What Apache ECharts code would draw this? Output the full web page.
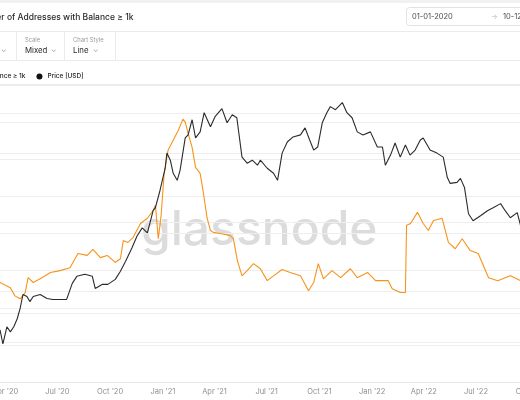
<!DOCTYPE html>
<html>
<head>
<meta charset="utf-8">
<script src="https://cdn.jsdelivr.net/npm/echarts@6/dist/echarts.min.js"></script>
<style>
html,body{margin:0;padding:0;background:#fff;}
#chart{width:520px;height:400px;}
</style>
</head>
<body>
<div id="chart"></div>
<script>
// ---- data ----
const tickDates = ['2020-01-01','2020-04-01','2020-07-01','2020-10-01','2021-01-01','2021-04-01','2021-07-01','2021-10-01','2022-01-01','2022-04-01','2022-07-01','2022-10-01'];
const monthNames = ['Jan','Feb','Mar','Apr','May','Jun','Jul','Aug','Sep','Oct','Nov','Dec'];

const addrDates = ['2020-03-06','2020-03-23','2020-04-10','2020-04-18','2020-04-27','2020-05-06','2020-05-11','2020-05-20','2020-06-01','2020-06-19','2020-07-06','2020-07-23','2020-08-06','2020-08-22','2020-09-01','2020-09-14','2020-09-26','2020-10-10','2020-10-19','2020-10-24','2020-11-01','2020-11-10','2020-11-23','2020-12-05','2020-12-15','2020-12-19','2020-12-24','2020-12-29','2021-01-03','2021-01-10','2021-01-19','2021-01-28','2021-02-05','2021-02-09','2021-02-14','2021-02-21','2021-02-27','2021-03-07','2021-03-12','2021-03-19','2021-03-25','2021-03-30','2021-04-11','2021-04-28','2021-05-04','2021-05-11','2021-05-19','2021-05-28','2021-06-08','2021-06-20','2021-07-02','2021-07-13','2021-07-28','2021-08-11','2021-08-29','2021-09-12','2021-09-21','2021-09-29','2021-10-08','2021-10-23','2021-11-07','2021-11-24','2021-12-06','2021-12-24','2022-01-07','2022-01-29','2022-02-05','2022-02-19','2022-02-28','2022-03-02','2022-03-09','2022-03-21','2022-03-31','2022-04-09','2022-04-18','2022-05-03','2022-05-14','2022-05-26','2022-06-07','2022-06-21','2022-07-05','2022-07-23','2022-08-08','2022-08-30','2022-09-17','2022-10-12'];
const addrValues = [2073,2068,2054,2032,2024,2041,2081,2068,2078,2095,2100,2108,2146,2141,2157,2135,2141,2122,2132,2181,2176,2189,2227,2241,2262,2276,2186,2249,2357,2424,2451,2478,2508,2500,2470,2432,2378,2362,2316,2243,2208,2203,2200,2195,2186,2127,2086,2100,2119,2105,2073,2086,2103,2095,2086,2046,2068,2119,2078,2100,2081,2105,2081,2095,2073,2073,2051,2041,2041,2222,2227,2257,2227,2208,2235,2241,2176,2159,2186,2154,2146,2081,2073,2086,2073,2070];

const priceDates = ['2020-03-14','2020-03-23','2020-03-28','2020-04-04','2020-04-10','2020-04-16','2020-04-22','2020-04-27','2020-05-02','2020-05-09','2020-05-14','2020-05-20','2020-06-01','2020-06-13','2020-06-23','2020-07-17','2020-07-27','2020-08-04','2020-08-18','2020-08-31','2020-09-05','2020-09-17','2020-09-27','2020-10-10','2020-10-19','2020-10-28','2020-11-08','2020-11-17','2020-11-26','2020-12-05','2020-12-15','2020-12-19','2020-12-27','2021-01-05','2021-01-08','2021-01-14','2021-01-19','2021-01-26','2021-01-31','2021-02-09','2021-02-14','2021-02-21','2021-02-27','2021-03-07','2021-03-14','2021-03-25','2021-04-02','2021-04-14','2021-04-23','2021-05-02','2021-05-10','2021-05-19','2021-05-28','2021-06-06','2021-06-15','2021-06-20','2021-07-02','2021-07-13','2021-07-20','2021-07-28','2021-08-06','2021-08-16','2021-08-29','2021-09-06','2021-09-14','2021-09-21','2021-09-28','2021-10-06','2021-10-14','2021-10-20','2021-10-29','2021-11-10','2021-11-18','2021-11-27','2021-12-06','2021-12-16','2021-12-29','2022-01-10','2022-01-19','2022-01-24','2022-02-02','2022-02-10','2022-02-19','2022-02-28','2022-03-08','2022-03-17','2022-03-26','2022-03-31','2022-04-12','2022-04-24','2022-05-05','2022-05-12','2022-05-17','2022-05-29','2022-06-04','2022-06-11','2022-06-18','2022-06-26','2022-07-09','2022-07-21','2022-07-31','2022-08-13','2022-08-21','2022-08-30','2022-09-11','2022-09-17','2022-10-12'];
const priceValues = [6302,6761,5869,6980,6630,6980,7570,8382,9668,9472,9000,9472,9668,9280,9187,9187,10814,11612,11852,11612,10275,10704,10704,11266,12222,13530,15444,17455,18938,17996,22515,23216,27606,34548,40245,37480,32840,30580,33840,46900,48360,56340,46900,49860,60510,52460,58090,63020,54640,59280,57490,38650,36350,37480,35620,37480,34548,32840,30580,40245,45020,47380,48360,51930,45950,41500,42790,54640,60510,64310,62370,66990,60510,57490,49860,48360,49860,42790,42790,35620,39440,44570,38650,43680,39440,41500,45950,46900,41500,40245,38650,31520,29650,29950,31200,28470,21840,20340,21400,22515,23216,24180,22515,20970,22070,19330,20340];

const priceGridValues = [6000, 8000, 10000, 20000, 40000, 60000];

const seriesNames = ['Number of Addresses with Balance ≥ 1k', 'Price [USD]'];

// ---- chart ----
function ts(s){ return new Date(s + 'T00:00:00').getTime(); }
const addrData = addrDates.map((d,i)=>[ts(d), addrValues[i]]);
const priceData = priceDates.map((d,i)=>[ts(d), priceValues[i]]);

const FONT = 'Inter, "Noto Sans", sans-serif';
const chart = echarts.init(document.getElementById('chart'), null, {renderer:'canvas'});

const hLine = (y) => ({type:'line', shape:{x1:0,y1:y,x2:520,y2:y}, style:{stroke:'#ebebeb', lineWidth:1}, silent:true});
const vLine = (x) => ({type:'line', shape:{x1:x,y1:32,x2:x,y2:60}, style:{stroke:'#ebebeb', lineWidth:1}, silent:true});
const txt = (x,y,t,size,color,weight) => ({type:'text', x:x, y:y, silent:true,
  style:{text:t, font:(weight||400)+' '+size+'px '+FONT, fill:color, textVerticalAlign:'middle'}});

chart.setOption({
  animation:false,
  backgroundColor:'#ffffff',
  textStyle:{fontFamily:FONT},
  legend:{
    left:-114, top:68, itemWidth:6, itemHeight:6, itemGap:11, icon:'circle',
    textStyle:{fontSize:6.5, fontWeight:500, color:'#222'},
    data:seriesNames
  },
  grid:{left:-47, right:-15, top:85, bottom:18, containLabel:false, outerBoundsMode:'none'},
  xAxis:{
    type:'value',
    min:ts('2020-01-01'), max:ts('2022-10-12'),
    axisLine:{show:true, lineStyle:{color:'#e8e8e8'}},
    axisTick:{show:false},
    splitLine:{show:false},
    axisLabel:{
      customValues: tickDates.map(ts),
      color:'#8c8f94', fontSize:7.5, margin:6, hideOverlap:false,
      formatter:(v)=>{ const d=new Date(v); return monthNames[d.getMonth()]+" '"+String(d.getFullYear()).slice(2); }
    }
  },
  yAxis:[
    {type:'value', min:1800, max:2600, interval:100, position:'left',
     axisLabel:{show:false}, axisLine:{show:false}, axisTick:{show:false},
     splitLine:{show:true, lineStyle:{color:'#eeeeee', width:1}}},
    {type:'log', logBase:10, min:4000, max:80000, position:'right',
     axisLabel:{show:false}, axisLine:{show:false}, axisTick:{show:false},
     splitLine:{show:false}}
  ],
  graphic:[
    {type:'rect', shape:{x:0,y:0,width:520,height:3}, style:{fill:'#f1f1f1'}, silent:true},
    hLine(31.5), hLine(60.5), hLine(84.5),
    vLine(16.5), vLine(64.5), vLine(115.5),
    txt(-28, 17, 'Number of Addresses with Balance ≥ 1k', 8.5, '#2a2a2a', 500),
    {type:'rect', shape:{x:406.5,y:7.5,width:130,height:18,r:3}, style:{fill:'#fff', stroke:'#e2e2e2', lineWidth:1}, silent:true},
    txt(412, 17, '01-01-2020', 7.5, '#4a4a4a', 400),
    txt(491, 17, '→', 7, '#b5b5b5', 400),
    txt(503, 17, '10-12-2022', 7.5, '#4a4a4a', 400),
    txt(1, 50, '⌄', 7, '#9a9a9a', 400),
    txt(25, 40, 'Scale', 5.8, '#9a9a9a', 400),
    txt(25, 51, 'Mixed', 7.8, '#2a2a2a', 400),
    txt(51, 50, '⌄', 7, '#9a9a9a', 400),
    txt(73, 40, 'Chart Style', 5.8, '#9a9a9a', 400),
    txt(73, 51, 'Line', 7.8, '#2a2a2a', 400),
    txt(93, 50, '⌄', 7, '#9a9a9a', 400),
    {type:'text', x:141, y:207, z:0, silent:true,
     style:{text:'glassnode', font:'500 48px '+FONT, fill:'#dcdcdc', textVerticalAlign:'top'}}
  ],
  series:[
    {name:seriesNames[0], type:'line', yAxisIndex:0, data:addrData, showSymbol:false, symbol:'none',
     z:3, lineStyle:{color:'#f7931a', width:1.1}, itemStyle:{color:'#f7931a'}},
    {name:seriesNames[1], type:'line', yAxisIndex:1, data:priceData, showSymbol:false, symbol:'none',
     z:4, lineStyle:{color:'#2b2b2b', width:1.1}, itemStyle:{color:'#111'},
     markLine:{silent:true, symbol:'none', label:{show:false}, z:1,
       lineStyle:{color:'#eeeeee', type:'solid', width:1},
       data:priceGridValues.map(v=>({yAxis:v}))}}
  ]
});
</script>
</body>
</html>
